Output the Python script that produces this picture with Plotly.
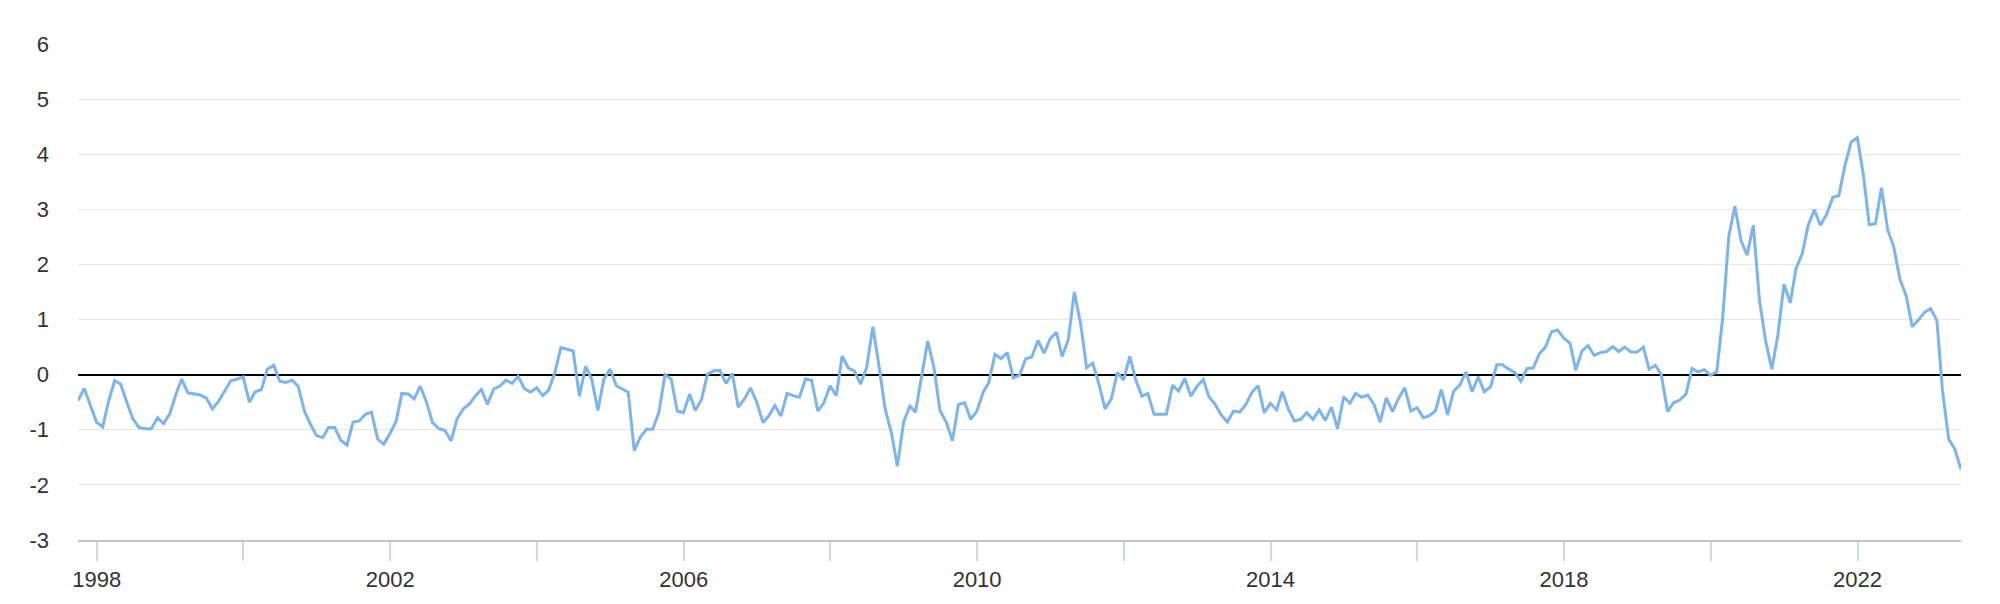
import pandas as pd
import plotly.graph_objects as go

# Monthly index values, Sep 1997 .. May 2023
values = [
    -0.47, -0.25, -0.55, -0.86, -0.95, -0.50, -0.11, -0.17, -0.50, -0.80,
    -0.96, -0.98, -0.98, -0.78, -0.89, -0.71, -0.35, -0.08, -0.33, -0.35,
    -0.37, -0.42, -0.62, -0.48, -0.31, -0.11, -0.08, -0.04, -0.50, -0.31,
    -0.27, 0.10, 0.17, -0.12, -0.14, -0.10, -0.21, -0.66, -0.90, -1.11,
    -1.14, -0.96, -0.96, -1.19, -1.28, -0.86, -0.84, -0.72, -0.68, -1.17,
    -1.26, -1.07, -0.84,
    -0.34, -0.35, -0.44, -0.21, -0.49, -0.87, -0.98, -1.01, -1.20, -0.80,
    -0.62, -0.53, -0.39, -0.27, -0.54, -0.26, -0.21, -0.10, -0.16, -0.03,
    -0.25, -0.32, -0.24, -0.38, -0.28, 0.04, 0.49, 0.46, 0.43, -0.39,
    0.15, -0.08, -0.65, -0.08, 0.10, -0.20, -0.26, -0.32, -1.38, -1.13,
    -0.99, -0.99, -0.68, 0.00, -0.08, -0.66, -0.69, -0.35, -0.65, -0.45,
    0.01, 0.07, 0.08, -0.16, 0.02,
    -0.59, -0.44, -0.24, -0.50, -0.87, -0.75, -0.56, -0.75, -0.34, -0.38,
    -0.41, -0.08, -0.10, -0.66, -0.51, -0.20, -0.38, 0.34, 0.12, 0.07,
    -0.17, 0.13, 0.87, 0.15, -0.62, -1.05, -1.66, -0.86, -0.57, -0.68,
    -0.02, 0.61, 0.13, -0.65, -0.86, -1.20, -0.54, -0.51, -0.81, -0.66,
    -0.32, -0.14, 0.37, 0.29, 0.40, -0.06, -0.01, 0.29, 0.32, 0.62,
    0.39, 0.65, 0.77,
    0.33, 0.64, 1.50, 0.93, 0.13, 0.21, -0.18, -0.62, -0.44, 0.04,
    -0.10, 0.33, -0.09, -0.39, -0.34, -0.72, -0.72, -0.72, -0.19, -0.30,
    -0.07, -0.39, -0.21, -0.09, -0.40, -0.54, -0.73, -0.86, -0.66, -0.68,
    -0.54, -0.32, -0.20, -0.69, -0.52, -0.64, -0.31, -0.63, -0.84, -0.81,
    -0.69, -0.81, -0.64, -0.83, -0.59, -0.98, -0.40, -0.52, -0.34, -0.41,
    -0.37, -0.54, -0.86,
    -0.42, -0.67, -0.43, -0.24, -0.66, -0.60, -0.78, -0.75, -0.66, -0.27,
    -0.73, -0.30, -0.19, 0.05, -0.31, -0.04, -0.31, -0.22, 0.18, 0.18,
    0.10, 0.04, -0.12, 0.11, 0.12, 0.38, 0.50, 0.78, 0.81, 0.66,
    0.57, 0.08, 0.43, 0.53, 0.35, 0.40, 0.42, 0.51, 0.42, 0.50,
    0.41, 0.41, 0.50, 0.10, 0.17, 0.00, -0.67, -0.51, -0.46, -0.35,
    0.11, 0.05,
    0.09, -0.01, 0.05, 1.01, 2.51, 3.06, 2.43, 2.17, 2.71, 1.34,
    0.62, 0.10, 0.71, 1.64, 1.30, 1.92, 2.19, 2.71, 2.99, 2.71,
    2.91, 3.22, 3.25, 3.81, 4.22, 4.30, 3.60, 2.72, 2.74, 3.39,
    2.63, 2.32, 1.73, 1.43, 0.87, 0.99, 1.13, 1.20, 0.98, -0.30,
    -1.17, -1.35, -1.72,
]

start_date = "1997-09-30"
dates = pd.date_range(start=start_date, periods=len(values), freq=pd.offsets.MonthEnd())

tick_years = list(range(1998, 2023, 2))
tick_vals = [f"{y}-01-01" for y in tick_years]
tick_text = [str(y) if (y - 1998) % 4 == 0 else "" for y in tick_years]

y_ticks = list(range(-3, 7))

font_family = "Liberation Sans, Arial, sans-serif"

fig = go.Figure()
fig.add_trace(go.Scatter(
    x=dates, y=values, mode="lines",
    line=dict(color="#7cb5ec", width=3),
    hoverinfo="x+y", showlegend=False,
))

fig.update_layout(
    width=2000, height=604,
    margin=dict(l=78, r=39, t=44, b=60, pad=0),
    paper_bgcolor="white", plot_bgcolor="white",
    font=dict(family=font_family, size=22, color="#333333"),
    showlegend=False,
)
fig.update_xaxes(
    type="date",
    range=[dates[0], dates[-1]],
    tickmode="array", tickvals=tick_vals, ticktext=tick_text,
    ticks="outside", ticklen=19, tickwidth=2, tickcolor="#ccd6eb",
    showline=True, linecolor="#c4c4c4", linewidth=2,
    showgrid=False, zeroline=False,
    tickfont=dict(size=22, color="#333333"),
)
fig.update_yaxes(
    range=[-3, 6],
    tickmode="array", tickvals=y_ticks, ticktext=[str(v) for v in y_ticks],
    showgrid=True, gridcolor="#e6e6e6", gridwidth=1,
    zeroline=True, zerolinecolor="#000000", zerolinewidth=2,
    showline=False, ticks="",
    ticklabelstandoff=28,
    tickfont=dict(size=22, color="#333333"),
)

fig.write_html("out.html", config={"displayModeBar": False},
               post_script="document.body.style.margin='0';")
